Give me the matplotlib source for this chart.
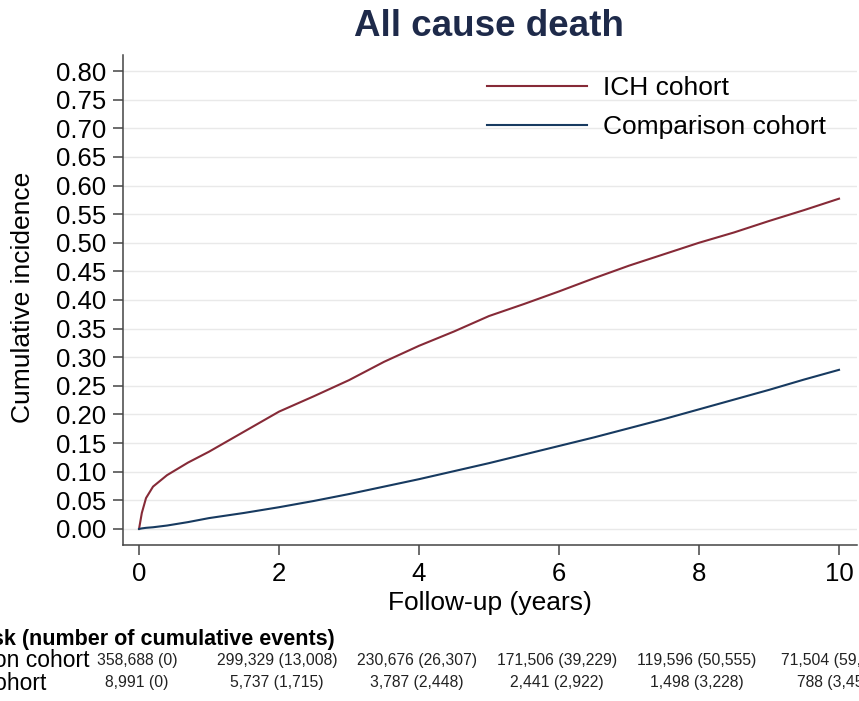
import matplotlib
matplotlib.use("Agg")
import matplotlib.pyplot as plt
import matplotlib.transforms as mtransforms
from matplotlib import font_manager

plt.rcParams['font.family'] = ['Liberation Sans', 'DejaVu Sans']

# cumulative incidence
years = [0, 0.04, 0.1, 0.2, 0.4, 0.7, 1, 1.5, 2, 2.5, 3, 3.5, 4, 4.5, 5,
         5.5, 6, 6.5, 7, 7.5, 8, 8.5, 9, 9.5, 10]
ich = [0, 0.028, 0.054, 0.074, 0.094, 0.116, 0.135, 0.170, 0.205, 0.232,
       0.260, 0.292, 0.320, 0.345, 0.372, 0.393, 0.415, 0.438, 0.460, 0.480,
       0.500, 0.518, 0.538, 0.557, 0.577]
comparison = [0, 0.001, 0.002, 0.003, 0.006, 0.012, 0.019, 0.028, 0.038,
              0.049, 0.061, 0.074, 0.087, 0.101, 0.115, 0.130, 0.145, 0.160,
              0.176, 0.192, 0.209, 0.226, 0.243, 0.261, 0.278]

# risk table
table_years = [0, 2, 4, 6, 8, 10]
comp_at_risk = ["358,688", "299,329", "230,676", "171,506", "119,596", "71,504"]
comp_events = ["0", "13,008", "26,307", "39,229", "50,555", "59,861"]
ich_at_risk = ["8,991", "5,737", "3,787", "2,441", "1,498", "788"]
ich_events = ["0", "1,715", "2,448", "2,922", "3,228", "3,452"]

yticks = [i * 0.05 for i in range(17)]
xticks = [0, 2, 4, 6, 8, 10]

W, H = 859, 701
fig = plt.figure(figsize=(W / 100, H / 100), dpi=100)
ax = fig.add_axes([123 / W, 1 - 545 / H, (857 - 123) / W, (545 - 55) / H])

red = "#862a37"
navy = "#173a60"
ax.plot(years, ich, color=red, lw=1.5, label="ICH cohort")
ax.plot(years, comparison, color=navy, lw=1.5, label="Comparison cohort")

ax.set_xlim(-0.229, 10.257)
ax.set_ylim(-0.028, 0.828)
ax.set_xticks(xticks)
ax.set_xticklabels([str(x) for x in xticks])
ax.set_yticks(yticks)
ax.set_yticklabels(["%.2f" % y for y in yticks])
ax.tick_params(labelsize=18.5, length=7, width=1.1, color="#444444", pad=5)
ax.grid(axis="y", color="#e9e9e9", lw=1.0)
ax.set_axisbelow(True)
for s in ["top", "right"]:
    ax.spines[s].set_visible(False)
for s in ["left", "bottom"]:
    ax.spines[s].set_color("#444444")
    ax.spines[s].set_linewidth(1.1)

fig.text(489 / W, 1 - 27 / H, "All cause death", fontsize=26.5, fontweight="bold",
         color="#1e2a4a", ha="center", va="center")
fig.text(490 / W, 1 - 603 / H, "Follow-up (years)", fontsize=19, ha="center", va="center")
fig.text(23 / W, 1 - 297 / H, "Cumulative incidence", fontsize=19, rotation=90,
         ha="center", va="center")

ax.legend(loc="upper left", bbox_to_anchor=(487 / W, 1 - 76 / H),
          bbox_transform=fig.transFigure, frameon=False, fontsize=19,
          handlelength=3.8, handletextpad=0.6, labelspacing=0.58,
          borderpad=0, borderaxespad=0)

# risk table below the plot
names = {f.name for f in font_manager.fontManager.ttflist}
if "Liberation Sans Narrow" in names:
    numfont, numsize = "Liberation Sans Narrow", 13.5
else:
    numfont, numsize = "Liberation Sans", 11.3

fig.text(335 / W, 1 - 640 / H, "Number at risk (number of cumulative events)",
         fontsize=15.5, fontweight="bold", ha="right", va="center")
fig.text(89 / W, 1 - 661 / H, "Comparison cohort", fontsize=16.5, ha="right", va="center")
fig.text(46 / W, 1 - 683 / H, "ICH cohort", fontsize=16.5, ha="right", va="center")

trans = mtransforms.blended_transform_factory(ax.transData, fig.transFigure)
for i, x in enumerate(table_years):
    ax.text(x - 0.03, 1 - 661 / H, "%s (%s)" % (comp_at_risk[i], comp_events[i]),
            transform=trans, family=numfont, fontsize=numsize,
            ha="center", va="center", color="#222222", clip_on=False)
    ax.text(x - 0.03, 1 - 683 / H, "%s (%s)" % (ich_at_risk[i], ich_events[i]),
            transform=trans, family=numfont, fontsize=numsize,
            ha="center", va="center", color="#222222", clip_on=False)

fig.savefig("out.png", dpi=100)
